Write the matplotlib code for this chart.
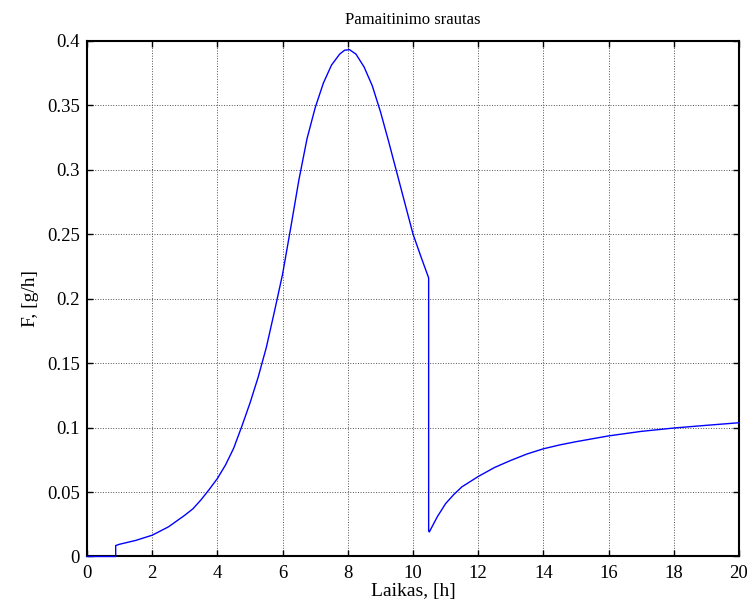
import numpy as np
import matplotlib.pyplot as plt

plt.rcParams['font.family'] = ['Liberation Serif', 'DejaVu Serif']

# feed flow over time
laikas = [0, 0.88, 0.88, 1.0, 1.5, 2.0, 2.5, 3.0, 3.25, 3.5, 3.75,
          4.0, 4.25, 4.5, 4.75, 5.0, 5.25, 5.5, 5.75, 6.0, 6.25, 6.5, 6.75,
          7.0, 7.25, 7.5, 7.75, 7.9, 8.05, 8.25, 8.5, 8.75, 9.0, 9.25, 9.5,
          9.75, 10.0, 10.25, 10.48, 10.48, 10.5, 10.75, 11.0, 11.25, 11.5,
          12.0, 12.5, 13.0, 13.5, 14.0, 14.5, 15.0, 16.0, 17.0, 18.0, 19.0,
          20.0]
srautas = [0, 0, 0.0085, 0.0095, 0.0125, 0.0165, 0.023, 0.032, 0.037,
           0.044, 0.052, 0.0605, 0.071, 0.084, 0.101, 0.119, 0.139, 0.162,
           0.19, 0.219, 0.255, 0.292, 0.324, 0.348, 0.367, 0.381, 0.3895,
           0.3925, 0.393, 0.3895, 0.3795, 0.365, 0.345, 0.322, 0.298, 0.274,
           0.25, 0.232, 0.216, 0.02, 0.019, 0.031, 0.041, 0.048, 0.054,
           0.062, 0.069, 0.0745, 0.0795, 0.0835, 0.0865, 0.089, 0.0935,
           0.097, 0.0996, 0.1017, 0.1037]

x_ticks = np.arange(0, 21, 2)
y_ticks = [0, 0.05, 0.1, 0.15, 0.2, 0.25, 0.3, 0.35, 0.4]
y_labels = ['0', '0.05', '0.1', '0.15', '0.2', '0.25', '0.3', '0.35', '0.4']

fig = plt.figure(figsize=(7.52, 6.12), dpi=100)
ax = fig.add_axes([0.1157, 0.0907, 0.867, 0.843])

ax.plot(laikas, srautas, color=(0, 0, 1), lw=1.0, clip_on=False, zorder=5)

ax.set_xlim(0, 20)
ax.set_ylim(0, 0.4)
ax.set_xticks(x_ticks)
ax.set_yticks(y_ticks)
ax.set_yticklabels(y_labels)
ax.tick_params(direction='in', length=4, width=1, top=True, right=True,
               labelsize=13.5)
ax.tick_params(axis='x', pad=6)
ax.tick_params(axis='y', pad=5)
for s in ax.spines.values():
    s.set_linewidth(1.5)
ax.grid(True, linestyle=':', color='#505050', linewidth=0.7)

ax.set_title('Pamaitinimo srautas', fontsize=12, pad=12)
ax.set_xlabel('Laikas, [h]', fontsize=14, labelpad=1)
ax.set_ylabel('F, [g/h]', fontsize=14, labelpad=6)

fig.savefig('out.png', dpi=100)
